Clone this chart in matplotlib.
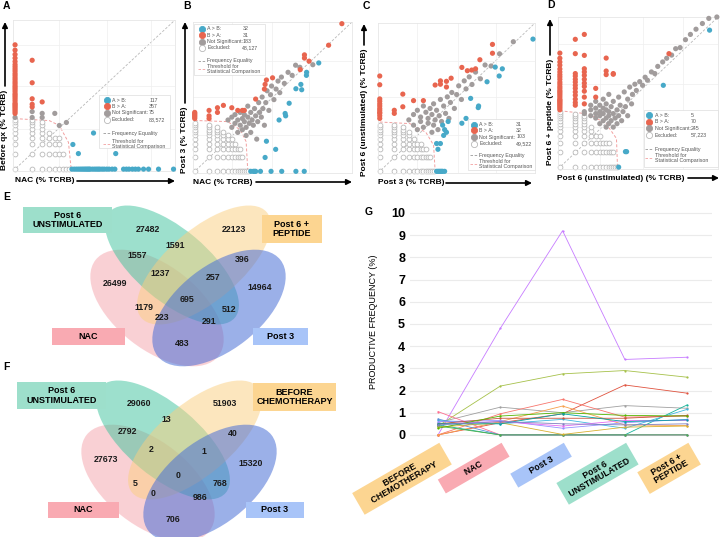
import numpy as np
import matplotlib
matplotlib.use('Agg')
import matplotlib.pyplot as plt
from matplotlib.patches import Ellipse, Rectangle

plt.rcParams['font.family'] = ['Liberation Sans', 'DejaVu Sans']

# ---------------- scatter data (clone counts, sample X vs sample Y) ----------------
A_RED = [(0, 11), (0, 12), (0, 13), (0, 14), (0, 15), (0, 16), (0, 17), (0, 18), (0, 20), (0, 22),
         (0, 24), (0, 26), (0, 28), (0, 31), (0, 34), (0, 37), (0, 40), (0, 44), (0, 48), (0, 53),
         (0, 58), (0, 64), (0, 70), (0, 78), (0, 86), (0, 95), (0, 105), (0, 120), (0, 140),
         (0, 165), (0, 200), (0, 254), (1, 127), (1, 46), (1, 22), (1, 17), (1, 15), (2, 19)]
A_BLUE = [(9, 0), (10, 0), (11, 0), (12, 0), (13, 0), (14, 0), (15, 0), (16, 0), (17, 0), (18, 0),
          (19, 0), (20, 0), (22, 0), (24, 0), (26, 0), (28, 0), (30, 0), (33, 0), (36, 0), (40, 0),
          (44, 0), (50, 0), (56, 0), (80, 0), (90, 0), (100, 0), (115, 0), (130, 0), (147, 0),
          (181, 0), (222, 0), (333, 0), (612, 0), (23, 4), (9.4, 2), (12, 1), (58, 1)]
A_NS = [(0, 9), (1, 12), (1, 9), (2, 11), (2, 9), (4, 11), (5, 6), (7, 7)]
A_EXCL = {0: [0, 1, 2, 3, 4, 5, 6, 7, 8], 1: [0, 1, 2, 3, 4, 5, 6, 7, 8], 2: [0, 1, 2, 3, 4, 5, 6, 7],
          3: [0, 1, 2, 3, 4], 4: [0, 1, 2, 3], 5: [0, 1, 2, 3], 6: [0, 1], 7: [0], 8: [0]}
A_THR = [(0, 8.5), (3, 7.7), (5, 6.0), (7.7, 2.3), (8.7, 0)]
A_COUNTS = ['117', '357', '75', '83,572']

B_RED = [(0, 13), (0, 14), (0, 15), (0, 16), (0, 17), (0, 18), (1, 20), (1, 15), (1, 13), (2, 23),
         (2, 18), (3, 26), (5, 23), (7, 20), (9, 20), (10, 20), (18, 36), (28, 60), (29, 76),
         (31, 95), (42, 106), (163, 160), (200, 336), (200, 286), (250, 245), (645, 545), (1225, 1600)]
B_BLUE = [(14, 0), (16, 0), (17, 0), (18, 0), (23, 0), (39, 0), (66, 0), (132, 0), (198, 0),
          (29, 1), (49, 2), (31, 3.5), (58, 12), (78, 17), (80, 15), (95, 29), (132, 61),
          (168, 76), (175, 58), (220, 120), (222, 140), (400, 224)]
B_NS = [(4, 12), (5, 8), (5, 14), (6, 10), (6, 16), (7, 6), (7, 12), (8, 9), (8, 18), (9, 7),
        (9, 13), (10, 11), (10, 16), (11, 5), (11, 8), (12, 14), (12, 25), (13, 10), (14, 6),
        (14, 18), (15, 12), (16, 9), (17, 22), (18, 15), (19, 4), (20, 11), (21, 30), (22, 18),
        (24, 14), (25, 40), (26, 22), (28, 9), (30, 30), (32, 55), (35, 20), (38, 45), (40, 70),
        (45, 35), (50, 60), (55, 90), (60, 50), (65, 110), (75, 80), (90, 140), (110, 120),
        (130, 200), (160, 180), (300, 205)]
B_EXCL = {0: [0, 1, 2, 3, 4, 5, 6, 7, 8, 9, 10], 1: [0, 1, 2, 3, 4, 5, 6, 7, 8, 9],
          2: [0, 1, 2, 3, 4, 5, 6, 7, 8], 3: [0, 1, 2, 3, 4, 5, 6], 4: [0, 1, 2, 3, 4, 5],
          5: [0, 1, 2, 3, 4], 6: [0, 1, 2, 3], 7: [0, 1, 2], 8: [0, 1, 2], 9: [0, 1], 10: [0],
          11: [0], 12: [0]}
B_THR = [(0, 11.7), (3.9, 11), (8, 7), (11, 3.4), (12, 0)]
B_COUNTS = ['32', '31', '183', '48,127']

C_RED = [(0, 13), (0, 15), (0, 17), (0, 18), (0, 20), (0, 22), (0, 25), (0, 28), (0, 32), (0, 36),
         (0, 74), (0, 115), (1, 20), (1, 17), (2, 46), (2, 24), (4, 33), (7, 33), (13, 73),
         (17, 90), (17, 76), (23, 66), (23, 88), (29, 103), (49, 177), (64, 150), (79, 155),
         (95, 165), (117, 260), (214, 560), (214, 360)]
C_BLUE = [(14, 0), (15, 0), (16, 0), (17, 0), (18, 0), (19, 0), (21, 0), (15, 2), (14, 3),
          (17, 3), (20, 5), (21, 7), (19, 9), (23, 6), (25, 11), (49, 10), (60, 13), (75, 37),
          (108, 23), (110, 25), (165, 86), (244, 180), (295, 115), (343, 165), (1480, 730)]
C_NS = [(3, 12), (4, 9), (4, 16), (5, 7), (5, 20), (6, 11), (6, 14), (7, 8), (7, 25), (8, 18),
        (9, 10), (9, 13), (10, 22), (11, 6), (11, 16), (12, 9), (12, 28), (13, 12), (14, 20),
        (15, 7), (16, 15), (17, 35), (18, 11), (20, 25), (22, 17), (24, 40), (26, 13), (28, 30),
        (30, 50), (34, 22), (38, 45), (42, 70), (48, 35), (55, 90), (60, 60), (70, 110),
        (80, 75), (95, 140), (120, 100), (150, 200), (200, 190), (300, 350), (580, 640)]
C_EXCL = {0: [0, 1, 2, 3, 4, 5, 6, 7, 8, 9], 1: [0, 1, 2, 3, 4, 5, 6, 7, 8, 9],
          2: [0, 1, 2, 3, 4, 5, 6, 7, 8], 3: [0, 1, 2, 3, 4, 5, 6], 4: [0, 1, 2, 3, 4],
          5: [0, 1, 2, 3], 6: [0, 1, 2, 3], 7: [0, 1, 2], 8: [0, 1, 2], 9: [0, 1], 10: [0, 1],
          11: [0], 12: [0]}
C_THR = [(0, 10.7), (3.2, 9.8), (8, 6), (12, 2.7), (13, 0)]
C_COUNTS = ['31', '32', '103', '49,522']

D_RED = [(0, 12), (0, 13), (0, 14), (0, 15), (0, 16), (0, 17), (0, 18), (0, 19), (0, 20), (0, 22),
         (0, 24), (0, 26), (0, 28), (0, 30), (0, 33), (0, 36), (0, 40), (0, 44), (0, 50), (0, 56),
         (0, 62), (0, 70), (0, 80), (0, 95), (0, 110), (0, 130), (0, 164),
         (1, 15), (1, 17), (1, 20), (1, 24), (1, 28), (1, 33), (1, 38), (1, 44), (1, 50), (1, 58),
         (1, 65), (1, 160), (1, 305), (2, 16), (2, 22), (2, 29), (2, 36), (2, 42), (2, 50),
         (2, 60), (2, 70), (2, 81), (2, 148), (2, 380), (4, 33), (4, 22), (7, 131), (7, 73),
         (7, 62), (10, 63), (10, 65), (133, 160)]
D_BLUE = [(18, 1), (19, 1), (13, 0), (103, 38), (828, 460)]
D_NS = [(2, 10), (2, 11), (3, 9), (3, 12), (3, 15), (4, 8), (4, 10), (4, 13), (4, 18), (5, 6),
        (5, 9), (5, 11), (5, 15), (6, 7), (6, 10), (6, 13), (6, 20), (7, 5), (7, 8), (7, 12),
        (7, 16), (8, 6), (8, 9), (8, 11), (8, 25), (9, 7), (9, 14), (10, 5), (10, 10), (10, 18),
        (11, 8), (12, 6), (12, 12), (13, 9), (13, 22), (14, 15), (15, 7), (16, 11), (17, 28),
        (18, 14), (20, 9), (20, 20), (22, 35), (24, 16), (25, 25), (28, 40), (30, 30), (35, 45),
        (40, 38), (45, 55), (50, 48), (60, 70), (70, 65), (80, 90), (100, 110), (120, 130),
        (150, 150), (180, 200), (220, 210), (280, 300), (350, 380), (450, 480), (600, 620),
        (800, 780), (1150, 830)]
D_EXCL = {0: [0, 1, 2, 3, 4, 5, 6, 7, 8, 9, 10, 11], 1: [0, 1, 2, 3, 4, 5, 6, 7, 8, 9, 10],
          2: [0, 1, 2, 3, 4, 5, 6, 7, 8, 9], 3: [0, 1, 2, 3, 4, 5], 4: [0, 1, 2, 3],
          5: [0, 1, 2, 3], 6: [0, 1, 2], 7: [0, 1, 2], 8: [0, 1, 2], 9: [0, 1], 10: [0, 1],
          11: [0], 12: [0]}
D_THR = [(0, 11.5), (2.7, 9.8), (7, 6), (11.7, 2.6), (12.3, 0)]
D_COUNTS = ['5', '70', '245', '57,223']

# ---------------- venn data ----------------
E_SETS = ['NAC', 'Post 6\nUNSTIMULATED', 'Post 6 +\nPEPTIDE', 'Post 3']
E_VALUES = ['27482', '22123', '1591', '1557', '396', '1237', '257', '26499', '14964', '695',
            '1179', '512', '223', '291', '483']
F_SETS = ['NAC', 'Post 6\nUNSTIMULATED', 'BEFORE\nCHEMOTHERAPY', 'Post 3']
F_VALUES = ['29060', '51903', '13', '2792', '40', '2', '1', '27673', '15320', '0',
            '5', '768', '0', '986', '706']

# ---------------- clone tracking data (panel G) ----------------
G_STAGES = ['    BEFORE    \n    CHEMOTHERAPY    ', '          NAC          ',
            '      Post 3      ', ' Post 6 \n UNSTIMULATED ', '   Post 6 +   \n   PEPTIDE   ']
G_VALUES = [
    [0.0, 4.8, 9.2, 3.4, 3.5],
    [0.4, 2.2, 2.75, 2.9, 2.6],
    [0.0, 0.55, 0.95, 2.25, 1.88],
    [0.55, 1.25, 1.0, 1.32, 1.2],
    [0.0, 0.95, 1.6, 0.8, 0.85],
    [0.0, 0.6, 1.3, 0.45, 0.42],
    [0.45, 0.0, 0.0, 0.0, 1.35],
    [0.65, 0.5, 0.7, 0.3, 1.15],
    [1.05, 0.0, 0.0, 0.0, 0.0],
    [0.72, 0.0, 0.0, 0.0, 0.0],
    [0.4, 0.0, 0.0, 0.0, 0.0],
    [0.35, 0.55, 0.02, 0.35, 0.4],
    [0.6, 0.65, 0.3, 0.55, 0.7],
    [0.5, 0.6, 0.4, 0.65, 0.65],
    [0.5, 0.75, 0.75, 0.75, 0.88],
    [0.3, 0.85, 1.0, 0.88, 0.85],
    [0.5, 0.5, 0.95, 0.6, 0.68],
    [0.45, 0.6, 0.5, 0.45, 0.5],
]
G_COLORS = ['#c77cff', '#a6c14a', '#e0533f', '#a0a0a0', '#f8766d', '#f7a04b', '#18b49a',
            '#3fb8e0', '#ff6f91', '#5b8fd8', '#4daf4a', '#d8b030', '#9590ff', '#e76bf3',
            '#c8553d', '#53b400', '#00a5a5', '#7f7fbf']

BLUE = '#47a9c8'
RED = '#e8654f'
GREY = '#a19c9c'
EXC = '#b9b9b9'
PINK_VENN, GREEN_VENN, YELLOW_VENN, BLUE_VENN = '#f5a3ab', '#3cc39c', '#fbcf7f', '#4a6fd6'
BOX_TEAL, BOX_YEL, BOX_PINK, BOX_BLUE = '#9ddfcb', '#fcd591', '#f9aab2', '#a8c4f8'

W, H = 722, 537
fig = plt.figure(figsize=(W / 100, H / 100), dpi=100)


def px_axes(l, t, r, b, **kw):
    return fig.add_axes([l / W, 1 - b / H, (r - l) / W, (b - t) / H], **kw)


def fwd(v):
    return np.log1p(np.clip(v, -0.5, None))


def inv(v):
    return np.expm1(v)


def draw_legend(ax, box, cols, rows, counts):
    x0, y0, x1, y1 = box
    ax.add_patch(Rectangle((x0, y0), x1 - x0, y1 - y0, transform=ax.transAxes, facecolor='white',
                           edgecolor='#dddddd', lw=0.5, zorder=5, clip_on=False))
    mx, tx, nx = cols
    specs = [(BLUE, BLUE, 'A > B:'), (RED, RED, 'B > A:'), (GREY, GREY, 'Not Significant:'),
             ('white', EXC, 'Excluded:')]
    for (fc, ec, lab), yy, n in zip(specs, rows[:4], counts):
        ax.scatter([mx], [yy], s=20, facecolors=fc, edgecolors=ec, linewidths=0.6,
                   transform=ax.transAxes, zorder=6, clip_on=False)
        ax.text(tx, yy, lab, transform=ax.transAxes, fontsize=3.8, color='#555555',
                va='center', zorder=6)
        ax.text(nx, yy, n, transform=ax.transAxes, fontsize=3.8, color='#555555',
                va='center', zorder=6)
    ax.plot([mx - 0.025, mx + 0.025], [rows[4], rows[4]], transform=ax.transAxes, ls=(0, (3, 2)),
            color='#999999', lw=0.6, zorder=6, clip_on=False)
    ax.text(tx, rows[4], 'Frequency Equality', transform=ax.transAxes, fontsize=3.8,
            color='#555555', va='center', zorder=6)
    ax.plot([mx - 0.025, mx + 0.025], [rows[5], rows[5]], transform=ax.transAxes, ls=(0, (3, 2)),
            color='#f2a0a0', lw=0.6, zorder=6, clip_on=False)
    ax.text(tx, rows[5], 'Threshold for\nStatistical Comparison', transform=ax.transAxes,
            fontsize=3.8, color='#555555', va='center', zorder=6, linespacing=1.0)


def scatter_panel(rect, red, blue, ns, excl, thr, xmax, ymax, counts, box, cols, rows):
    ax = px_axes(*rect)
    ax.set_xscale('function', functions=(fwd, inv))
    ax.set_yscale('function', functions=(fwd, inv))
    ex = [x for x, ys in excl.items() for _ in ys]
    ey = [y for ys in excl.values() for y in ys]
    ax.scatter(ex, ey, s=12, facecolors='white', edgecolors=EXC, linewidths=0.6, zorder=2,
               clip_on=False)
    for pts, col in ((ns, GREY), (blue, BLUE), (red, RED)):
        xs, ys = zip(*pts)
        ax.scatter(xs, ys, s=14, c=col, edgecolors='none', zorder=3, clip_on=False)
    tx, ty = zip(*thr)
    ax.plot(tx, ty, ls=(0, (3, 2)), color='#f2a0a0', lw=0.7, zorder=1, clip_on=False)
    ax.plot([0, 1], [0, 1], transform=ax.transAxes, ls=(0, (3, 2)), color='#b8b8b8', lw=0.6,
            zorder=1)
    ax.set_xlim(-0.08, xmax)
    ax.set_ylim(-0.08, ymax)
    ax.set_xticks([5, 40, 250])
    ax.set_yticks([5, 40, 250])
    ax.minorticks_off()
    ax.grid(True, color='#efefef', lw=0.5)
    ax.tick_params(length=0, labelbottom=False, labelleft=False)
    for s in ax.spines.values():
        s.set_color('#e6e6e6')
        s.set_linewidth(0.6)
    draw_legend(ax, box, cols, rows, counts)
    return ax


scatter_panel((13, 20, 175, 171), A_RED, A_BLUE, A_NS, A_EXCL, A_THR, 650, 770, A_COUNTS,
              (0.53, 0.15, 0.97, 0.50), (0.58, 0.61, 0.84), [0.47, 0.43, 0.385, 0.34, 0.25, 0.18])
scatter_panel((193, 22, 352, 173), B_RED, B_BLUE, B_NS, B_EXCL, B_THR, 2000, 1740, B_COUNTS,
              (0.006, 0.65, 0.45, 0.99), (0.057, 0.09, 0.31), [0.956, 0.912, 0.868, 0.829, 0.743, 0.69])
scatter_panel((378, 23, 535, 173), C_RED, C_BLUE, C_NS, C_EXCL, C_THR, 1630, 1630, C_COUNTS,
              (0.576, 0.02, 1.0, 0.36), (0.61, 0.646, 0.88), [0.32, 0.285, 0.24, 0.195, 0.12, 0.062])
scatter_panel((558, 17, 718, 169), D_RED, D_BLUE, D_NS, D_EXCL, D_THR, 1210, 830, D_COUNTS,
              (0.54, 0.015, 1.0, 0.39), (0.567, 0.604, 0.83), [0.355, 0.31, 0.267, 0.223, 0.13, 0.07])

# ---------------- panel G ----------------
axg = px_axes(410, 205, 712, 442)
for vals, col in zip(G_VALUES, G_COLORS):
    axg.plot(range(len(vals)), vals, color=col, lw=0.6, marker='o', ms=1.6, mew=0)
axg.set_xlim(-0.45, 4.4)
axg.set_ylim(-0.32, 10.36)
axg.set_yticks(range(11))
axg.set_yticklabels([str(v) for v in range(11)], fontsize=9, fontweight='bold')
axg.grid(axis='y', color='#ebebeb', lw=0.8)
axg.set_axisbelow(True)
for s in axg.spines.values():
    s.set_visible(False)
axg.tick_params(length=0, pad=3.5)
axg.tick_params(axis='x', pad=4)
axg.set_xticks(range(len(G_STAGES)))
axg.set_xticklabels(G_STAGES, rotation=30, ha='right', va='top', rotation_mode='anchor',
                    fontsize=6.3, fontweight='bold', multialignment='center', linespacing=1.0)
for lab, col in zip(axg.get_xticklabels(), [BOX_YEL, BOX_PINK, BOX_BLUE, BOX_TEAL, BOX_YEL]):
    lab.set_bbox(dict(boxstyle='square,pad=0.4', fc=col, ec='none'))
axg.set_ylabel('PRODUCTIVE FREQUENCY (%)', fontsize=6.5)
axg.yaxis.set_label_coords(-0.106, 0.506)

# ---------------- overlay: labels, arrows, venns ----------------
ov = fig.add_axes([0, 0, 1, 1], zorder=10)
ov.set_xlim(0, W)
ov.set_ylim(H, 0)
ov.axis('off')


def arrow(x0, y0, x1, y1):
    ov.annotate('', xy=(x1, y1), xytext=(x0, y0),
                arrowprops=dict(arrowstyle='-|>', lw=1.2, color='black', mutation_scale=8,
                                shrinkA=0, shrinkB=0))


LAB = dict(fontsize=6, fontweight='bold', color='black')
ov.text(5, 130, 'Before qx (% TCRB)', rotation=90, ha='center', va='center', **LAB)
arrow(5, 86, 5, 22)
ov.text(15, 181, 'NAC (% TCRB)', ha='left', va='center', **LAB)
arrow(77, 181, 175, 181)
ov.text(185, 140, 'Post 3 (% TCRB)', rotation=90, ha='center', va='center', **LAB)
arrow(185, 103, 185, 22)
ov.text(193, 182, 'NAC (% TCRB)', ha='left', va='center', **LAB)
arrow(256, 182, 352, 182)
ov.text(364, 112, 'Post 6 (unstimulated) (% TCRB)', rotation=90, ha='center', va='center', **LAB)
arrow(364, 45, 364, 24)
ov.text(378, 183, 'Post 3 (% TCRB)', ha='left', va='center', **LAB)
arrow(446, 183, 532, 183)
ov.text(550, 112, 'Post 6 + peptide (% TCRB)', rotation=90, ha='center', va='center', **LAB)
arrow(550, 55, 550, 19)
ov.text(557, 178, 'Post 6 (unstimulated) (% TCRB)', ha='left', va='center', **LAB)
arrow(688, 178, 719, 178)

for letter, (x, y) in zip('ABCDEFG', [(3, 6), (183, 6), (363, 6), (547, 5), (3, 197), (3, 367),
                                      (365, 212)]):
    ov.text(x, y, letter, fontsize=7.5, fontweight='bold', ha='left', va='center')

# venn layout (pixel positions of ellipses, labels and region numbers)
ELLIPSES = [((157, 308), 156, 84, 38, PINK_VENN, 0.5),
            ((172, 265), 164, 72, 40, GREEN_VENN, 0.5),
            ((204, 265), 164, 72, -40, YELLOW_VENN, 0.5),
            ((219, 308), 156, 84, -38, BLUE_VENN, 0.55)]
REGION_POS = [(148, 229), (234, 229), (175, 245), (137, 256), (242, 259), (160, 274), (213, 277),
              (115, 284), (260, 288), (187, 300), (144, 308), (229, 309), (162, 318), (209, 322),
              (182, 344)]


def venn(dx, dy, sets, values, boxes):
    for (c, w, h, ang, col, al) in ELLIPSES:
        ov.add_patch(Ellipse((c[0] + dx, c[1] + dy), w, h, angle=ang, facecolor=col, alpha=al,
                             edgecolor='none'))
    for (x, y), v in zip(REGION_POS, values):
        ov.text(x + dx, y + dy, v, ha='center', va='center', fontsize=6.3, fontweight='bold',
                color='#1a1a1a')
    for name, (l, t, r, b, col) in zip(sets, boxes):
        ov.add_patch(Rectangle((l, t), r - l, b - t, facecolor=col, edgecolor='none'))
        ov.text((l + r) / 2, (t + b) / 2, name, ha='center', va='center', fontsize=6.5,
                fontweight='bold', linespacing=1.1)


venn(0, 0, E_SETS, E_VALUES,
     [(52, 328, 125, 345, BOX_PINK), (23, 207, 112, 233, BOX_TEAL),
      (262, 215, 322, 243, BOX_YEL), (253, 328, 308, 345, BOX_BLUE)])
venn(-9, 175, F_SETS, F_VALUES,
     [(48, 502, 119, 518, BOX_PINK), (17, 382, 106, 409, BOX_TEAL),
      (253, 383, 336, 411, BOX_YEL), (246, 502, 304, 518, BOX_BLUE)])

fig.savefig('out.png', dpi=100)
